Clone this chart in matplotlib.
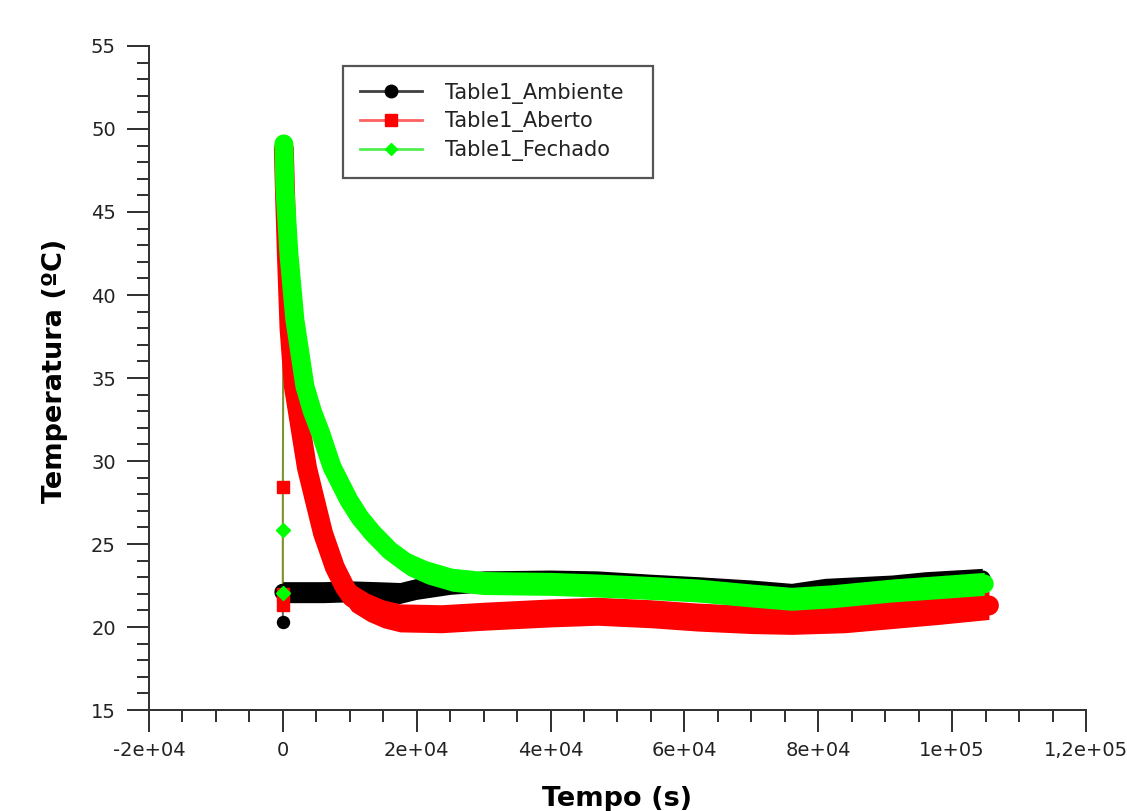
import matplotlib
matplotlib.use('Agg')
import matplotlib.pyplot as plt
from matplotlib.ticker import MultipleLocator, FixedLocator, FixedFormatter
from matplotlib.lines import Line2D

# ---------------- data ----------------
series_names = ['Table1_Ambiente', 'Table1_Aberto', 'Table1_Fechado']

# Ambiente (black)
amb_t = [0, 0, 2000, 6000, 10000, 14000, 17500, 20000, 25000, 30000, 40000,
         47000, 55000, 62000, 70000, 76000, 81000, 91000, 96000, 104500]
amb_T = [20.3, 22.1, 22.1, 22.1, 22.15, 22.1, 22.05, 22.3, 22.6, 22.75, 22.8,
         22.75, 22.55, 22.4, 22.2, 22.0, 22.3, 22.5, 22.7, 22.9]
amb_n0 = 1   # isolated first points

# Aberto (red)
abe_t = [0, 0, 0, 150, 300, 600, 1000, 1650, 2760, 3600, 4780, 6000, 7770,
         9260, 10300, 12700, 15000, 17500, 23700, 30000, 40000, 47000, 55000,
         62000, 70000, 76000, 84000, 91000, 98000, 105500]
abe_T = [21.3, 22.0, 28.45, 48.8, 46.5, 42.5, 38.0, 34.5, 31.7, 29.6, 27.65,
         25.65, 23.6, 22.4, 21.8, 21.2, 20.8, 20.55, 20.5, 20.65, 20.85, 20.95,
         20.8, 20.6, 20.45, 20.4, 20.5, 20.75, 21.0, 21.3]
abe_n0 = 3

# Fechado (green)
fec_t = [0, 0, 150, 300, 900, 1800, 3300, 4400, 5630, 7340, 9850, 11500,
         13440, 16000, 18700, 21500, 25300, 30000, 40000, 47000, 55000, 62000,
         70000, 76000, 82000, 91000, 98000, 104800]
fec_T = [22.05, 25.85, 49.1, 46.5, 42.5, 38.5, 34.5, 33.0, 31.7, 29.65, 27.65,
         26.6, 25.65, 24.6, 23.8, 23.3, 22.85, 22.65, 22.6, 22.5, 22.35, 22.2,
         21.9, 21.7, 21.85, 22.2, 22.4, 22.6]
fec_n0 = 2

xtick_vals = [-20000, 0, 20000, 40000, 60000, 80000, 100000, 120000]
xtick_labels = ['-2e+04', '0', '2e+04', '4e+04', '6e+04', '8e+04', '1e+05', '1,2e+05']
ytick_vals = [15, 20, 25, 30, 35, 40, 45, 50, 55]
ytick_labels = ['15', '20', '25', '30', '35', '40', '45', '50', '55']

# ---------------- figure ----------------
fig = plt.figure(figsize=(11.27, 8.11), dpi=100)
ax = fig.add_axes([0.1322, 0.1245, 0.8314, 0.8188])

PX = 0.72            # points per pixel at 100 dpi
DEG_PER_PX = 40 / 664.0

styles = [
    dict(t=amb_t, T=amb_T, n0=amb_n0, color='#000000', thin='#404040', thin_a=0.8,
         marker='o', ms=12, band=17, spread_px=10.5, z=2),
    dict(t=abe_t, T=abe_T, n0=abe_n0, color='#ff0000', thin='#d00000', thin_a=0.6,
         marker='s', ms=12, band=20, spread_px=14, z=3),
    dict(t=fec_t, T=fec_T, n0=fec_n0, color='#00ff00', thin='#20c000', thin_a=0.55,
         marker='D', ms=10, band=19, spread_px=11.5, z=4),
]

for s in styles:
    tt = s['t'][s['n0']:]
    TT = s['T'][s['n0']:]
    sp = s['spread_px'] * DEG_PER_PX
    # thin connecting line through all points (under the dense record)
    ax.plot(s['t'], s['T'], color=s['thin'], lw=2 * PX, alpha=s['thin_a'], zorder=1)
    # dense band of markers for the continuous record
    ax.plot(tt, TT, color=s['color'], lw=s['band'] * PX, solid_capstyle='round',
            solid_joinstyle='round', zorder=s['z'])
    ax.fill_between(tt, [v - sp for v in TT], [v + sp for v in TT],
                    color=s['color'], lw=0, zorder=s['z'])
    # isolated first readings
    ax.plot(s['t'][:s['n0']], s['T'][:s['n0']], ls='none', marker=s['marker'],
            color=s['color'], ms=s['ms'] * PX, zorder=s['z'] + 20)

# axes
ax.set_xlim(-20000, 120000)
ax.set_ylim(15, 55)
for side in ['top', 'right']:
    ax.spines[side].set_visible(False)
for side in ['left', 'bottom']:
    ax.spines[side].set_linewidth(2 * PX)
    ax.spines[side].set_color('#333333')

ax.xaxis.set_major_locator(FixedLocator(xtick_vals))
ax.xaxis.set_major_formatter(FixedFormatter(xtick_labels))
ax.xaxis.set_minor_locator(MultipleLocator(5000))
ax.yaxis.set_major_locator(FixedLocator(ytick_vals))
ax.yaxis.set_major_formatter(FixedFormatter(ytick_labels))
ax.yaxis.set_minor_locator(MultipleLocator(1))

ax.tick_params(which='major', direction='out', length=22 * PX, width=2 * PX,
               color='#333333', labelsize=14, labelcolor='#222222')
ax.tick_params(which='minor', direction='out', length=12 * PX, width=2 * PX,
               color='#333333')
ax.tick_params(axis='x', which='major', pad=9 * PX)
ax.tick_params(axis='y', which='major', pad=11 * PX)

ax.set_xlabel('Tempo (s)', fontsize=19.5, fontweight='bold')
ax.set_ylabel('Temperatura (ºC)', fontsize=19.5, fontweight='bold')
ax.xaxis.set_label_coords(0.5, -0.114)
ax.yaxis.set_label_coords(-0.0864, 0.511)

# legend
handles = [
    Line2D([], [], color='#404040', lw=2, marker='o', ms=9, mfc='#000000', mec='#000000'),
    Line2D([], [], color='#ff6060', lw=2, marker='s', ms=9, mfc='#ff0000', mec='#ff0000'),
    Line2D([], [], color='#50f050', lw=2, marker='D', ms=6, mfc='#00ff00', mec='#00ff00'),
]
leg = ax.legend(handles, series_names, loc='upper left',
                bbox_to_anchor=(0.207, 0.8042, 0.3309, 0.1657), mode='expand',
                fontsize=15, frameon=True, fancybox=False, framealpha=1,
                edgecolor='#555555', borderpad=0.8, labelspacing=0.37,
                handlelength=3.0, handletextpad=1.1, borderaxespad=0)
leg.get_frame().set_linewidth(2.2 * PX)
for txt in leg.get_texts():
    txt.set_color('#222222')

fig.savefig('out.png', dpi=100)
